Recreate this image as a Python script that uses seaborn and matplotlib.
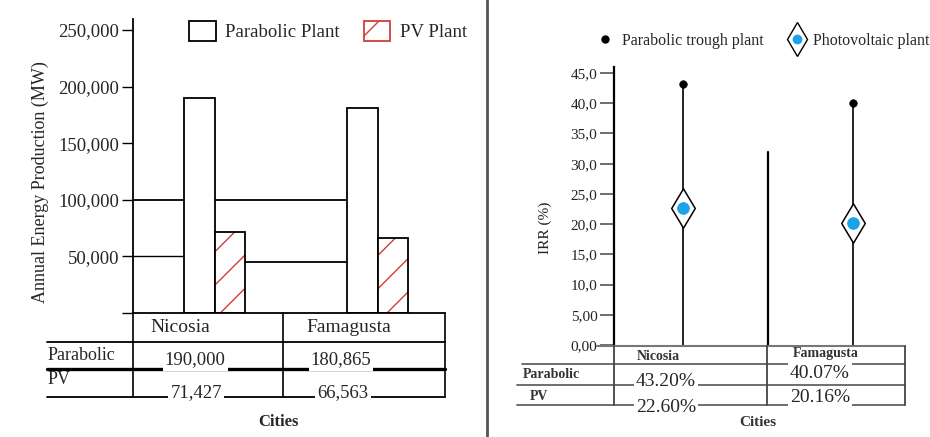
import matplotlib
matplotlib.use("Agg")
import matplotlib.pyplot as plt
from matplotlib.patches import Patch, Rectangle
from matplotlib.lines import Line2D
import seaborn as sns
import pandas as pd

# ---- data -------------------------------------------------------------
cities = ["Nicosia", "Famagusta"]
plants = ["Parabolic", "PV"]
energy_parabolic = [190000, 180865]
energy_pv = [71427, 66563]
energy_labels_parabolic = ["190,000", "180,865"]
energy_labels_pv = ["71,427", "66,563"]

irr_parabolic = [43.20, 40.07]
irr_pv = [22.60, 20.16]
irr_labels_parabolic = ["43.20%", "40.07%"]
irr_labels_pv = ["22.60%", "20.16%"]

energy_ticks = [50000, 100000, 150000, 200000, 250000]
energy_ticklabels = ["50,000", "100,000", "150,000", "200,000", "250,000"]
irr_ticks = [0, 5, 10, 15, 20, 25, 30, 35, 40, 45]
irr_ticklabels = ["0,00", "5,00", "10,0", "15,0", "20,0", "25,0", "30,0", "35,0", "40,0", "45,0"]

sns.set_theme(style="white")
plt.rcParams["font.family"] = ["Liberation Serif", "DejaVu Serif"]
plt.rcParams["hatch.linewidth"] = 1.0

W, H = 930, 437
fig = plt.figure(figsize=(W / 100, H / 100), dpi=100)


def fx(px):
    return px / W


def fy(py):
    return 1 - py / H


# ---- left panel: annual energy production -----------------------------
energy_df = pd.DataFrame({
    "city": cities * 2,
    "plant": [plants[0]] * 2 + [plants[1]] * 2,
    "value": energy_parabolic + energy_pv,
})

ax1 = fig.add_axes([fx(133), fy(313), fx(445) - fx(133), fy(18.7) - fy(313)])
sns.barplot(data=energy_df, x="city", y="value", hue="plant", order=cities,
            hue_order=plants, palette=["white", "white"], width=0.38,
            edgecolor="black", linewidth=1.3, saturation=1, legend=False,
            ax=ax1, zorder=3)
# PV bars: red hatching under a black outline
for bar in ax1.containers[1]:
    bar.set_hatch("/")
    bar.set_edgecolor("#d23b3b")
    bar.set_linewidth(0)
    ax1.add_patch(Rectangle(bar.get_xy(), bar.get_width(), bar.get_height(),
                            fill=False, edgecolor="black", linewidth=1.3, zorder=4))

ax1.set_xlim(-0.50, 1.414)
ax1.set_ylim(0, 260000)
ax1.axhline(100000, xmin=0, xmax=0.71, color="black", lw=1.3, zorder=1)
ax1.axhline(50000, xmin=0, xmax=0.3, color="black", lw=1.0, zorder=1)
ax1.axhline(45000, xmin=0.3, xmax=0.71, color="black", lw=1.3, zorder=1)
ax1.set_yticks([0] + energy_ticks)
ax1.set_yticklabels([""] + energy_ticklabels, fontsize=13.5)
ax1.tick_params(axis="y", direction="out", length=8, width=1, color="black",
                left=True, pad=2)
ax1.set_xticks([])
ax1.set_xlabel("")
ax1.set_ylabel("")
for side in ["top", "right", "bottom"]:
    ax1.spines[side].set_visible(False)
ax1.spines["left"].set_color("black")
ax1.spines["left"].set_linewidth(1.3)

fig.text(fx(40), fy(182), "Annual Energy Production (MW)", rotation=90,
         ha="center", va="center", fontsize=13)

leg1 = fig.legend(
    handles=[Patch(facecolor="white", edgecolor="black", lw=1.3),
             Patch(facecolor="white", edgecolor="#d23b3b", hatch="/", lw=1.3)],
    labels=["Parabolic Plant", "PV Plant"], loc="center",
    bbox_to_anchor=(fx(328), fy(31)), ncol=2, frameon=False, fontsize=13.5,
    handlelength=1.4, handleheight=1.3, columnspacing=1.3, handletextpad=0.5)

# ---- right panel: internal rate of return ------------------------------
irr_df = pd.DataFrame({"city": cities, "parabolic": irr_parabolic, "pv": irr_pv})

ax2 = fig.add_axes([fx(614), fy(345), fx(905) - fx(614), fy(67) - fy(345)])
ax2.set_xlim(-0.406, 1.306)
ax2.set_ylim(0, 46)
xpos = list(range(len(cities)))
ax2.vlines(xpos, 0, irr_df["parabolic"], color="black", lw=1.2, zorder=2)
ax2.axvline(0.5, ymin=0, ymax=32 / 46, color="black", lw=1.6, zorder=2)
sns.scatterplot(x=xpos, y=irr_df["parabolic"], color="black", s=30,
                edgecolor="black", ax=ax2, zorder=4)
sns.scatterplot(x=xpos, y=irr_df["pv"], marker="d", s=400, color="white",
                edgecolor="black", linewidth=1.1, ax=ax2, zorder=4)
sns.scatterplot(x=xpos, y=irr_df["pv"], marker="o", s=70, color="#1aa3e8",
                edgecolor="#1aa3e8", ax=ax2, zorder=5)
ax2.set_yticks(irr_ticks)
ax2.set_yticklabels(irr_ticklabels, fontsize=11, color="#222222")
ax2.tick_params(axis="y", direction="out", length=10, width=1.2,
                color="#555555", left=True, pad=2)
ax2.set_xticks([])
ax2.set_xlabel("")
ax2.set_ylabel("")
for side in ["top", "right", "bottom"]:
    ax2.spines[side].set_visible(False)
ax2.spines["left"].set_color("black")
ax2.spines["left"].set_linewidth(1.6)

fig.text(fx(545), fy(228), "IRR (%)", rotation=90, ha="center", va="center",
         fontsize=11, color="#222222")

pv_handle = (Line2D([], [], marker="d", ms=17, mfc="white", mec="black", ls=""),
             Line2D([], [], marker="o", ms=6, mfc="#1aa3e8", mec="#1aa3e8", ls=""))
dot_handle = Line2D([], [], marker="o", ms=5, mfc="black", mec="black", ls="")
fig.legend(handles=[dot_handle, pv_handle],
           labels=["Parabolic trough plant", "Photovoltaic plant"],
           loc="center", bbox_to_anchor=(fx(764), fy(41)), ncol=2,
           frameon=False, prop={"size": 11.5},
           handlelength=0.9, columnspacing=1.6, handletextpad=0.6)

# ---- value tables drawn under each panel ------------------------------
tab = fig.add_axes([0, 0, 1, 1], zorder=10)
tab.set_xlim(0, W)
tab.set_ylim(H, 0)
tab.axis("off")

# divider between the two panels
tab.plot([487, 487], [0, H], color="#555555", lw=2)

# left table grid
for y, lw in [(313, 1.3), (342, 1.3), (369, 2.4), (397, 1.3)]:
    x0 = 133 if y == 313 else 47
    tab.plot([x0, 445], [y, y], color="black", lw=lw)
for x in [133, 283, 445]:
    tab.plot([x, x], [313, 397], color="black", lw=1.2)

bg = dict(facecolor="white", edgecolor="none", pad=1.5)
for i, c in enumerate(cities):
    tab.text([180, 349][i], 327, c, ha="center", va="center", fontsize=14)
    tab.text([195, 341][i], 360, energy_labels_parabolic[i], ha="center",
             va="center", fontsize=13.5, bbox=bg)
    tab.text([196, 343][i], 393, energy_labels_pv[i], ha="center",
             va="center", fontsize=13.5, bbox=bg)
tab.text(48, 356, plants[0], ha="left", va="center", fontsize=13)
tab.text(48, 380, plants[1], ha="left", va="center", fontsize=13)
tab.text(278, 422, "Cities", ha="center", va="center", fontsize=12, weight="bold")

# right table grid
tab.plot([597, 905], [346, 346], color="#777777", lw=1.5)
for y, x0 in [(364, 522), (385, 517), (405, 517)]:
    tab.plot([x0, 905], [y, y], color="#555555", lw=1.2)
for x in [614, 767, 905]:
    tab.plot([x, x], [346, 405], color="#444444", lw=1.3)

for i, c in enumerate(cities):
    tab.text([658, 826][i], [357, 353][i], c, ha="center", va="center",
             fontsize=10, weight="bold", color="#333333")
    tab.text([666, 820][i], [382, 373][i], irr_labels_parabolic[i],
             ha="center", va="center", fontsize=14, bbox=bg)
    tab.text([666, 820][i], [407, 398][i], irr_labels_pv[i], ha="center",
             va="center", fontsize=14, bbox=bg)
tab.text(523, 375, "Parabolic", ha="left", va="center", fontsize=10,
         weight="bold", color="#333333")
tab.text(530, 396, "PV", ha="left", va="center", fontsize=10,
         weight="bold", color="#333333")
tab.text(758, 423, "Cities", ha="center", va="center", fontsize=11,
         weight="bold", color="#333333")

fig.savefig("out.png", dpi=100)
